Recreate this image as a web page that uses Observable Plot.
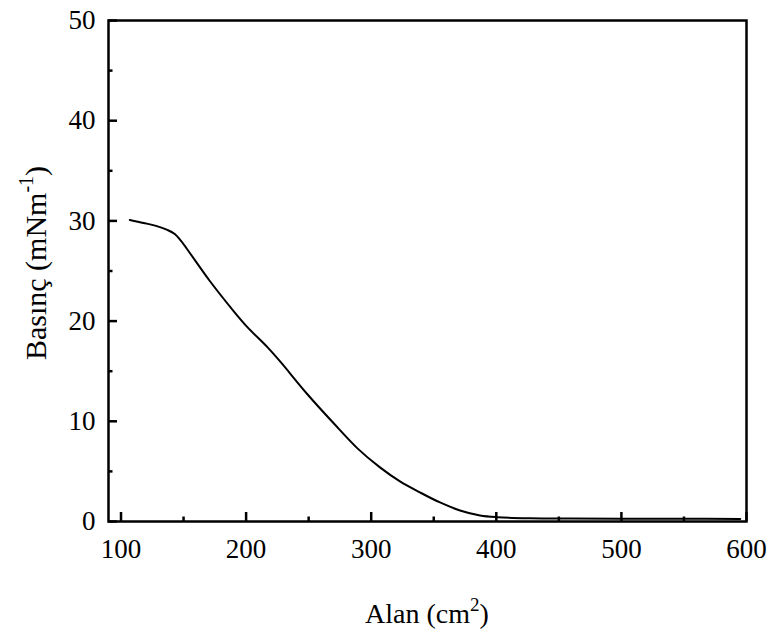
<!DOCTYPE html>
<html>
<head>
<meta charset="utf-8">
<script src="https://cdn.jsdelivr.net/npm/d3@7"></script>
<script src="https://cdn.jsdelivr.net/npm/@observablehq/plot@0.6"></script>
<style>
  html, body { margin: 0; padding: 0; background: #fff; }
  #chart svg { display: block; }
  #chart svg text { font-family: "Liberation Serif", "DejaVu Serif", serif !important; }
</style>
</head>
<body>
<div id="chart"></div>
<script>
// Data
const area = [107, 118, 128, 137, 143, 148, 155, 171, 190, 201, 217, 227, 249, 270, 289, 307, 323, 339, 355, 371, 387, 401, 427, 460, 500, 550, 595];
const pressure = [30.1, 29.8, 29.5, 29.1, 28.7, 28.0, 26.8, 24.0, 21.0, 19.4, 17.4, 16.0, 12.7, 9.8, 7.3, 5.4, 4.0, 2.9, 1.9, 1.1, 0.6, 0.43, 0.33, 0.3, 0.28, 0.27, 0.25];
const xTicks = [100, 200, 300, 400, 500, 600];
const xMinorTicks = [150, 250, 350, 450, 550];
const yTicks = [0, 10, 20, 30, 40, 50];
const yMinorTicks = [5, 15, 25, 35, 45];
const xTitle = "Alan (cm";
const xTitleSup = "2";
const yTitle = "Basınç (mNm";
const yTitleSup = "-1";

const data = area.map((a, i) => ({area: a, pressure: pressure[i]}));
const fam = "Liberation Serif, DejaVu Serif, serif";

const chart = Plot.plot({
  width: 775,
  height: 638,
  marginLeft: 108,
  marginRight: 29,
  marginTop: 20,
  marginBottom: 117,
  style: {fontFamily: fam, fontSize: "27px", color: "black", background: "white"},
  x: {domain: [90, 600], label: null},
  y: {domain: [0, 50], label: null},
  marks: [
    Plot.axisX(xTicks, {tickSize: -9, tickFormat: () => "", strokeWidth: 2.5, label: null}),
    Plot.axisX(xMinorTicks, {tickSize: -4.5, tickFormat: () => "", strokeWidth: 2.5, label: null}),
    Plot.axisX(xTicks, {tickSize: 0, tickPadding: 17, label: null, fill: "black"}),
    Plot.axisY(yTicks, {tickSize: -9, tickFormat: () => "", strokeWidth: 2.5, label: null}),
    Plot.axisY(yMinorTicks, {tickSize: -4.5, tickFormat: () => "", strokeWidth: 2.5, label: null}),
    Plot.axisY(yTicks, {tickSize: 0, tickPadding: 13, label: null, fill: "black"}),
    Plot.line(data, {x: "area", y: "pressure", stroke: "black", strokeWidth: 2, curve: "catmull-rom"}),
    Plot.frame({stroke: "black", strokeWidth: 2.5})
  ]
});

const svg = d3.select(chart);

const xt = svg.append("text")
  .attr("x", 427).attr("y", 623)
  .attr("text-anchor", "middle")
  .attr("font-family", fam).attr("font-size", 28).attr("fill", "black");
xt.append("tspan").text(xTitle);
xt.append("tspan").attr("dy", -12).attr("font-size", 19).text(xTitleSup);
xt.append("tspan").attr("dy", 12).text(")");

const yt = svg.append("text")
  .attr("transform", "translate(46,263) rotate(-90)")
  .attr("text-anchor", "middle")
  .attr("font-family", fam).attr("font-size", 30).attr("fill", "black");
yt.append("tspan").text(yTitle);
yt.append("tspan").attr("dy", -13).attr("font-size", 20).text(yTitleSup);
yt.append("tspan").attr("dy", 13).text(")");

document.getElementById("chart").appendChild(chart);
</script>
</body>
</html>
